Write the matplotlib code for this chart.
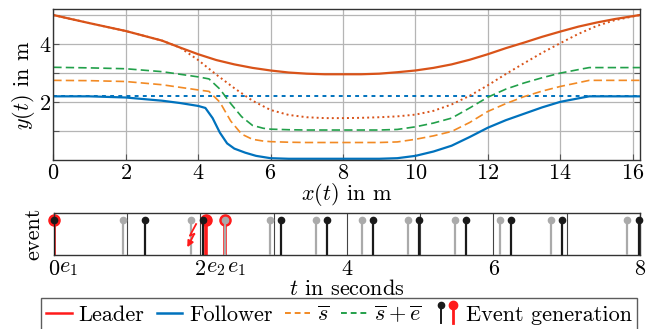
import numpy as np
import matplotlib
matplotlib.use("Agg")
import matplotlib.pyplot as plt
from matplotlib.lines import Line2D
from matplotlib.legend_handler import HandlerBase


# ============================================================
# Data
# ============================================================

# top panel: path in the plane
x_leader = [0, 1, 2, 3, 3.5, 4, 4.5, 5, 5.5, 6, 6.5, 7, 7.5, 8, 8.5, 9, 9.5, 10,
            10.5, 11, 11.5, 12, 12.5, 13, 13.5, 14, 14.5, 15, 15.5, 16.2]
y_leader = [5.0, 4.72, 4.45, 4.12, 3.88, 3.65, 3.45, 3.30, 3.18, 3.09, 3.02, 2.98,
            2.96, 2.96, 2.96, 2.98, 3.03, 3.09, 3.18, 3.30, 3.46, 3.65, 3.86, 4.05,
            4.25, 4.43, 4.60, 4.74, 4.86, 5.0]
y_leader_ref = [5.0, 4.72, 4.45, 4.12, 3.88, 3.45, 2.95, 2.48, 2.05, 1.73, 1.56, 1.48,
                1.45, 1.45, 1.46, 1.48, 1.51, 1.57, 1.70, 1.92, 2.22, 2.58, 2.97, 3.34,
                3.70, 4.03, 4.35, 4.62, 4.82, 5.0]

x_follower = [0, 1, 2, 3, 3.5, 4, 4.2, 4.4, 4.6, 4.8, 5.0, 5.3, 5.6, 6, 6.5, 7, 8, 9,
              9.5, 10, 10.5, 11, 11.5, 12, 12.5, 13, 13.5, 14, 14.5, 14.8, 16.2]
y_follower = [2.2, 2.2, 2.16, 2.05, 1.97, 1.87, 1.80, 1.45, 0.95, 0.58, 0.40, 0.26,
              0.15, 0.07, 0.05, 0.05, 0.05, 0.05, 0.07, 0.15, 0.30, 0.50, 0.80, 1.12,
              1.38, 1.60, 1.82, 2.01, 2.13, 2.2, 2.2]

x_follower_ref = [0, 16.2]
y_follower_ref = [2.2, 2.2]

x_bounds = [0, 1, 2, 3, 4, 4.3, 4.6, 4.9, 5.2, 5.5, 5.8, 6, 6.5, 7, 8, 9, 9.5, 10,
            10.5, 11, 11.5, 12, 12.5, 13, 13.5, 14, 14.5, 14.8, 16.2]
y_sbar = [2.75, 2.74, 2.71, 2.6, 2.42, 2.37, 2.0, 1.35, 0.9, 0.72, 0.66, 0.64, 0.62,
          0.61, 0.61, 0.61, 0.63, 0.72, 0.84, 0.99, 1.30, 1.68, 1.95, 2.19, 2.38,
          2.54, 2.67, 2.75, 2.75]
y_sbar_ebar = [3.2, 3.18, 3.15, 3.05, 2.87, 2.8, 2.45, 1.95, 1.5, 1.2, 1.1, 1.07, 1.05,
               1.04, 1.04, 1.04, 1.06, 1.15, 1.28, 1.45, 1.8, 2.17, 2.45, 2.66, 2.84,
               3.0, 3.12, 3.19, 3.19]

# bottom panel: event times in seconds
t_leader_events = [0.0, 2.07, 2.33]
leader_event_labels = ["$e_1$", "$e_2$", "$e_1$"]
t_gray_events = [0.94, 1.87, 2.33, 2.95, 3.58, 4.20, 4.84, 5.47, 6.09, 6.79, 7.82]
t_black_events = [0.0, 1.24, 2.03, 3.10, 3.73, 4.35, 4.99, 5.62, 6.24, 6.94, 7.99]

C_LEADER = "#d95319"
C_FOLLOWER = "#0072bd"
C_SBAR = "#f28a24"
C_SEBAR = "#22a04a"
C_RED = "#ff1a1a"
C_GRAY = "#aaaaaa"
C_BLACK = "#1a1a1a"

FS = 16
FS_LEG = 16

plt.rcParams["font.family"] = ["cmr10", "DejaVu Serif"]
plt.rcParams["mathtext.fontset"] = "cm"
plt.rcParams["axes.formatter.use_mathtext"] = True
plt.rcParams["font.size"] = FS


class StemPairHandler(HandlerBase):
    """Legend icon: a black and a red event pin side by side."""

    def create_artists(self, legend, orig_handle, xdescent, ydescent,
                       width, height, fontsize, trans):
        arts = []
        y0 = -ydescent - 0.15 * height
        y1 = -ydescent + 1.0 * height
        for frac, col, lw, ms in [(0.3, C_BLACK, 1.4, 4.5), (0.75, C_RED, 2.0, 6)]:
            x = -xdescent + frac * width
            line = Line2D([x, x], [y0, y1], color=col, lw=lw, transform=trans)
            dot = Line2D([x], [y1], marker="o", color=col, ms=ms, lw=0,
                         transform=trans)
            arts += [line, dot]
        return arts


fig = plt.figure(figsize=(6.57, 3.29), dpi=100)

# ------------------------------------------------------------
# top panel
# ------------------------------------------------------------
ax = fig.add_axes([0.0811, 0.513, 0.8929, 0.459])

ax.plot(x_follower_ref, y_follower_ref, ls=(0, (2, 2.2)), color=C_FOLLOWER, lw=1.4)
ax.plot(x_leader, y_leader_ref, ls=(0, (1, 1.6)), color=C_LEADER, lw=1.4)
ax.plot(x_bounds, y_sbar, ls=(0, (5, 2.5)), color=C_SBAR, lw=1.2)
ax.plot(x_bounds, y_sbar_ebar, ls=(0, (5, 2.5)), color=C_SEBAR, lw=1.2)
ax.plot(x_follower, y_follower, color=C_FOLLOWER, lw=1.6)
ax.plot(x_leader, y_leader, color=C_LEADER, lw=1.6)

ax.set_xlim(0, 16.2)
ax.set_ylim(0, 5.2)
ax.set_xticks(np.arange(0, 17, 2))
ax.set_yticks([1, 2, 3, 4, 5])
ax.set_yticklabels(["", "2", "", "4", ""])
ax.grid(True, color="#b5b5b5", lw=0.9)
ax.tick_params(direction="in", length=4, right=True, top=False, pad=2,
               labelsize=FS, color="#555555")
ax.set_xlabel("$x(t)$ in m", fontsize=FS, labelpad=-1)
ax.set_ylabel("$y(t)$ in m", fontsize=FS, labelpad=2)
for sp in ax.spines.values():
    sp.set_color("#333333")
    sp.set_linewidth(1.0)

# ------------------------------------------------------------
# bottom panel
# ------------------------------------------------------------
bx = fig.add_axes([0.0822, 0.225, 0.8918, 0.128])

stem_h = 1.0
bx.vlines(t_leader_events, 0, stem_h, color=C_RED, lw=2.6, zorder=2)
bx.plot(t_leader_events, [stem_h] * len(t_leader_events), "o", color=C_RED,
        ms=8, zorder=2, clip_on=False)
bx.vlines(t_gray_events, 0, stem_h, color=C_GRAY, lw=1.6, zorder=3)
bx.plot(t_gray_events, [stem_h] * len(t_gray_events), "o", color=C_GRAY,
        ms=4.5, zorder=3, clip_on=False)
bx.vlines(t_black_events, 0, stem_h, color=C_BLACK, lw=1.6, zorder=4)
bx.plot(t_black_events, [stem_h] * len(t_black_events), "o", color=C_BLACK,
        ms=4.5, zorder=4, clip_on=False)

# lightning bolt (packet loss) next to the lost event
bx.plot([1.94, 1.855, 1.915], [0.88, 0.55, 0.60], color=C_RED, lw=1.3, zorder=5)
bx.annotate("", xy=(1.82, 0.22), xytext=(1.915, 0.60),
            arrowprops=dict(arrowstyle="-|>", color=C_RED, lw=1.3,
                            mutation_scale=9, shrinkA=0, shrinkB=0), zorder=5)

bx.set_xlim(0, 8)
bx.set_ylim(0, 1.2)
bx.set_xticks(np.arange(0, 9, 1))
bx.set_xticklabels(["0", "", "2", "", "4", "", "6", "", "8"])
bx.set_yticks([])
bx.grid(True, axis="x", color="#444444", lw=0.8)
bx.tick_params(length=0, pad=3, labelsize=FS)
bx.set_xlabel("$t$ in seconds", fontsize=FS, labelpad=0)
bx.set_ylabel("event", fontsize=FS, labelpad=8)
for sp in bx.spines.values():
    sp.set_color("#333333")
    sp.set_linewidth(1.0)

label_offsets = [0.07, 0.0, 0.03]
for t, lab, off in zip(t_leader_events, leader_event_labels, label_offsets):
    bx.text(t + off, -0.08, lab, ha="left", va="top", fontsize=FS,
            transform=bx.get_xaxis_transform())

# ------------------------------------------------------------
# legend
# ------------------------------------------------------------
handles = [
    Line2D([], [], color=C_RED, lw=1.8),
    Line2D([], [], color=C_FOLLOWER, lw=1.8),
    Line2D([], [], color=C_SBAR, lw=1.4, ls=(0, (3, 2))),
    Line2D([], [], color=C_SEBAR, lw=1.4, ls=(0, (3, 2))),
    Line2D([], [], color="none"),
]
labels = ["Leader", "Follower", r"$\overline{s}$", r"$\overline{s}+\overline{e}$",
          "Event generation"]
leg = fig.legend(handles, labels, loc="upper left", bbox_to_anchor=(0.062, 0.094),
                 ncol=5, fontsize=FS_LEG, handlelength=1.15, handletextpad=0.3,
                 columnspacing=0.55, borderpad=0.25, borderaxespad=0,
                 fancybox=False, frameon=True, edgecolor="#333333",
                 handler_map={handles[4]: StemPairHandler()})
leg.get_frame().set_linewidth(1.0)

fig.savefig("out.png", dpi=100)
